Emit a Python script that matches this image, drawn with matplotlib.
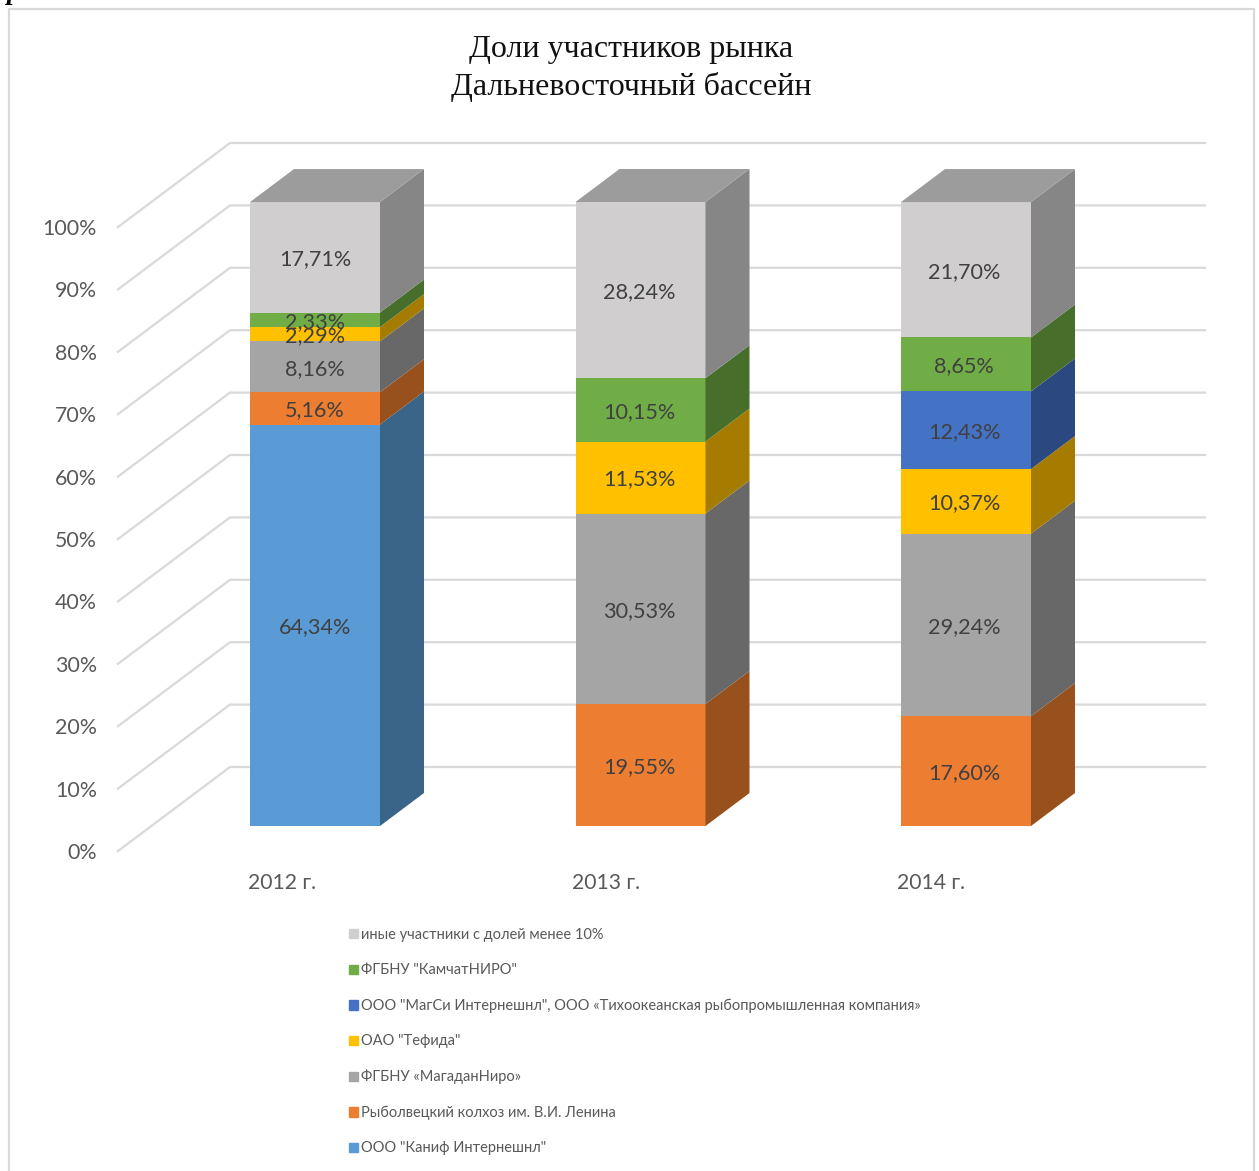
"""
Stacked pseudo-3D column chart: market shares, Far East basin.
"""

import matplotlib
matplotlib.use('Agg')
import matplotlib.pyplot as plt
import matplotlib.patches as mpatches

YEARS = ['2012 г.', '2013 г.', '2014 г.']

# Stack order, bottom to top
KANIF = [64.34, 0, 0]
RYBOLOV = [5.16, 19.55, 17.60]
MAGADAN = [8.16, 30.53, 29.24]
TEFIDA = [2.29, 11.53, 10.37]
MAGSI = [0, 0, 12.43]
KAMCHAT = [2.33, 10.15, 8.65]
OTHERS = [17.71, 28.24, 21.70]

SERIES = [KANIF, RYBOLOV, MAGADAN, TEFIDA, MAGSI, KAMCHAT, OTHERS]
NAMES = [
    'ООО "Каниф Интернешнл"',
    'Рыболвецкий колхоз им. В.И. Ленина',
    'ФГБНУ «МагаданНиро»',
    'ОАО "Тефида"',
    'ООО "МагСи Интернешнл", ООО «Тихоокеанская рыбопромышленная компания»',
    'ФГБНУ "КамчатНИРО"',
    'иные участники с долей менее 10%',
]
FRONT = ['#5b9bd5', '#ed7d31', '#a5a5a5', '#ffc000', '#4472c4', '#70ad47', '#d0cece']
SIDE = ['#3b6489', '#98501d', '#686868', '#a57c00', '#2b4880', '#476f2b', '#868686']
TOP_FACE = '#9c9c9c'
TICKS = list(range(0, 101, 10))

W, H = 1259, 1171
# one category = 325.5 px, one percent = 6.24 px, bar 0 centred at px 315, 0% at py 826
PX_PER_CAT = 325.5
PX_PER_PCT = 6.24
BAR_WIDTH = 130 / PX_PER_CAT
DEPTH_X = 44 / PX_PER_CAT
DEPTH_Y = 33 / PX_PER_PCT
TEXT_DROP = 2 / PX_PER_PCT  # Lato sits a little high with va='center'


def px(x):
    return (x - 315) / PX_PER_CAT


def py(y):
    return (826 - y) / PX_PER_PCT


plt.rcParams['font.family'] = ['Lato', 'Open Sans', 'DejaVu Sans']

fig = plt.figure(figsize=(W / 100, H / 100), dpi=100)
ax = fig.add_axes([0, 0, 1, 1])
ax.set_xlim(px(0), px(W))
ax.set_ylim(py(H), py(0))
ax.axis('off')

# outer frame of the chart area
ax.plot([px(9), px(9), px(1254), px(1254)], [py(H + 5), py(8.5), py(8.5), py(H + 5)],
        color='#d9d9d9', linewidth=1.6, zorder=1)

# walls: diagonal on the side wall, then horizontal on the back wall
wall_x = [px(118), px(230), px(1205)]
for t in TICKS:
    front = t - 25 / PX_PER_PCT
    back = t + 59 / PX_PER_PCT
    ax.plot(wall_x, [front, back, back], color='#d9d9d9', linewidth=1.6, zorder=1,
            solid_joinstyle='miter')
    ax.text(px(97), front - TEXT_DROP, f'{t}%', ha='right', va='center', fontsize=15.4,
            color='#595959')

for i, year in enumerate(YEARS):
    ax.text(px(282 + i * 324.3), py(883), year, ha='center', va='center', fontsize=15.2,
            color='#595959')

bottoms = [0, 0, 0]
for values, front, side in zip(SERIES, FRONT, SIDE):
    ax.bar(range(3), values, BAR_WIDTH, bottom=bottoms, color=front, zorder=3)
    for i, v in enumerate(values):
        if v == 0:
            continue
        right = i + BAR_WIDTH / 2
        low = bottoms[i]
        ax.fill([right, right + DEPTH_X, right + DEPTH_X, right],
                [low, low + DEPTH_Y, low + v + DEPTH_Y, low + v],
                color=side, linewidth=0, zorder=3)
        label = f'{v:.2f}%'.replace('.', ',')
        ax.text(i * 0.9969, low + v / 2 - TEXT_DROP, label, ha='center', va='center',
                fontsize=15.6, color='#404040', zorder=5)
        bottoms[i] += v

# top faces
for i, total in enumerate(bottoms):
    left = i - BAR_WIDTH / 2
    right = i + BAR_WIDTH / 2
    ax.fill([left, right, right + DEPTH_X, left + DEPTH_X],
            [total, total, total + DEPTH_Y, total + DEPTH_Y],
            color=TOP_FACE, linewidth=0, zorder=3)

ax.text(px(631), py(50), 'Доли участников рынка', ha='center', va='center', fontsize=23,
        family='Liberation Serif', color='#111111')
ax.text(px(631), py(87), 'Дальневосточный бассейн', ha='center', va='center', fontsize=23,
        family='Liberation Serif', color='#111111')

# bit of the cut-off heading above the chart
ax.text(px(7), py(-1), 'р', ha='left', va='baseline', fontsize=20, family='Liberation Serif',
        fontweight='bold', fontstyle='italic', color='black')

handles = [mpatches.Patch(color=c, label=n) for c, n in zip(FRONT, NAMES)][::-1]
ax.legend(handles=handles, loc='upper left', bbox_to_anchor=(349 / W, 1 - 928 / H),
          frameon=False, fontsize=10.55, labelcolor='#595959', handlelength=0.6,
          handleheight=0.6, handletextpad=0.2, labelspacing=1.46, borderpad=0,
          borderaxespad=0)

fig.savefig('out.png', dpi=100)
plt.close(fig)
